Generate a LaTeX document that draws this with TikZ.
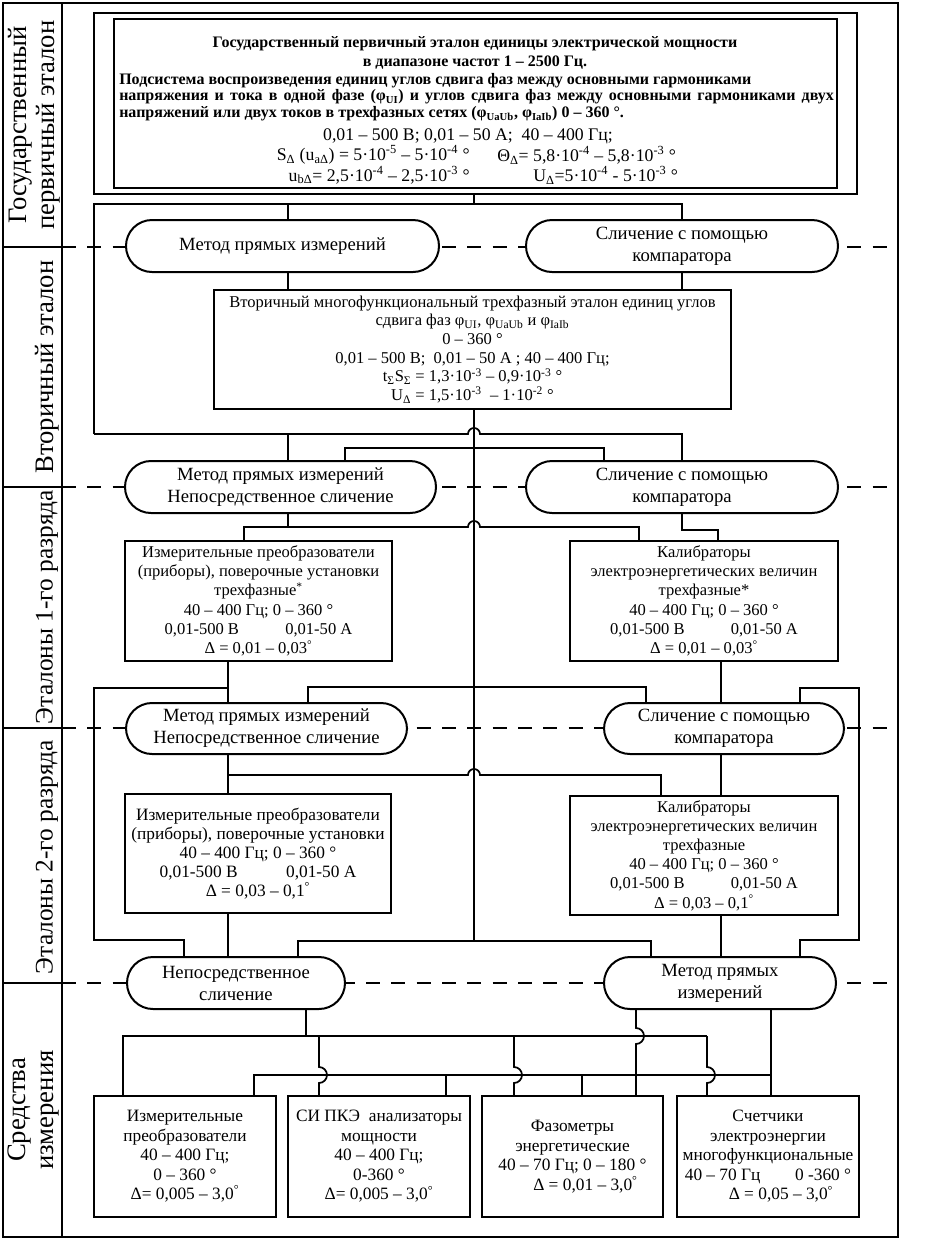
\documentclass[tikz,border=0pt]{standalone}
\usepackage{fontspec}
\setmainfont{Liberation Serif}
\usetikzlibrary{backgrounds}
\newcommand{\fsz}[2]{\fontsize{#1}{#2}\selectfont\lineskiplimit=-100pt}
% \BX{name}{x1}{y1}{x2}{y2}{style}{text}
\newcommand{\BX}[7]{\node[#6,minimum width={(#4-#2)*0.75pt},minimum height={(#5-#3)*0.75pt}] (#1) at ({(#2+#4)/2},{(#3+#5)/2}) {#7};}
\begin{document}
\begin{tikzpicture}[x=0.75pt,y=-0.75pt,
  box/.style={draw,line width=1.5pt,fill=white,inner sep=0pt,align=center},
  oval/.style={draw,line width=1.5pt,fill=white,rounded corners=19.5pt,inner sep=0pt,align=center,font=\fsz{14}{16.5}},
  txt/.style={inner sep=0pt},
  conn/.style={line width=1.3pt},
  sepl/.style={line width=1.3pt,dash pattern=on 10.5pt off 8.5pt},
  frm/.style={line width=1.6pt},
  lbl/.style={rotate=90,align=center,inner sep=0pt,font=\fsz{20}{21}}]
\useasboundingbox (0,0) rectangle (934,1240);
% frame
\draw[frm] (3,3) rectangle (898,1237);
\draw[frm] (62,3) -- (62,1237);
\foreach \yy in {247,487,728,983} \draw[frm] (3,\yy) -- (62,\yy);
% labels
\node[lbl] (L1) at (34,125) {Государственный\\первичный эталон};
\node[lbl] (L2) at (47,367) {Вторичный эталон};
\node[lbl,font=\fsz{19}{20}] (L3) at (47,607) {Эталоны 1-го разряда};
\node[lbl,font=\fsz{19}{20}] (L4) at (47,857) {Эталоны 2-го разряда};
\node[lbl] (L5) at (34,1110) {Средства\\измерения};
% top box
\BX{topo}{94}{13}{857}{194}{box}{}
\BX{topi}{114}{19}{837}{188}{box}{}
\node[txt,align=center,font=\bfseries\fsz{12}{14.2}] (t1) at (475,53) {Государственный первичный эталон единицы электрической мощности\\в диапазоне частот 1 – 2500 Гц.};
\node[txt,align=left,anchor=west,font=\bfseries\fsz{12}{12.6}] (t2) at (119,97) {Подсистема воспроизведения единиц углов сдвига фаз между основными гармониками\\\makebox[536pt][s]{напряжения и тока в одной фазе (φ\textsubscript{UI}) и углов сдвига фаз между основными гармониками двух}\\напряжений или двух токов в трехфазных сетях (φ\textsubscript{UaUb}, φ\textsubscript{IaIb}) 0 – 360 °.};
\node[txt,font=\fsz{13.3}{14}] (t3) at (468,136) {0,01 – 500 В; 0,01 – 50 А;\ \ 40 – 400 Гц;};
\node[txt,anchor=east,font=\fsz{13.3}{14}] (t4) at (470,155) {S\textsubscript{Δ} (u\textsubscript{aΔ}) = 5·10\textsuperscript{-5} – 5·10\textsuperscript{-4} °};
\node[txt,anchor=west,font=\fsz{13.3}{14}] (t5) at (497,155) {Θ\textsubscript{Δ}= 5,8·10\textsuperscript{-4} – 5,8·10\textsuperscript{-3} °};
\node[txt,anchor=east,font=\fsz{13.3}{14}] (t6) at (470,175) {u\textsubscript{bΔ}= 2,5·10\textsuperscript{-4} – 2,5·10\textsuperscript{-3} °};
\node[txt,anchor=west,font=\fsz{13.3}{14}] (t7) at (533,175) {U\textsubscript{Δ}=5·10\textsuperscript{-4} - 5·10\textsuperscript{-3} °};
% row 2
\BX{o2a}{126}{220}{439}{272}{oval}{Метод прямых измерений}
\BX{o2b}{526}{220}{838}{272}{oval}{Сличение с помощью\\компаратора}
\BX{sec}{214}{290}{731}{409}{box,font=\fsz{12.4}{14}}{Вторичный многофункциональный трехфазный эталон единиц углов\\сдвига фаз φ\textsubscript{UI}, φ\textsubscript{UaUb} и φ\textsubscript{IaIb}\\0 – 360 °\\0,01 – 500 В;\ \ 0,01 – 50 А ; 40 – 400 Гц;\\t\textsubscript{Σ}S\textsubscript{Σ} = 1,3·10\textsuperscript{-3} – 0,9·10\textsuperscript{-3} °\\U\textsubscript{Δ} = 1,5·10\textsuperscript{-3}\ \ – 1·10\textsuperscript{-2} °}
% row 3
\BX{o3a}{125}{461}{436}{513}{oval}{Метод прямых измерений\\Непосредственное сличение}
\BX{o3b}{526}{461}{838}{513}{oval}{Сличение с помощью\\компаратора}
\BX{b3a}{125}{541}{392}{661}{box,font=\fsz{12.4}{14.5}}{Измерительные преобразователи\\(приборы), поверочные установки\\трехфазные\textsuperscript{*}\\40 – 400 Гц; 0 – 360 °\\0,01-500 В\hspace{2.8em}0,01-50 А\\Δ = 0,01 – 0,03\textsuperscript{°}}
\BX{b3b}{570}{541}{838}{661}{box,font=\fsz{12.4}{14.5}}{Калибраторы\\электроэнергетических величин\\трехфазные*\\40 – 400 Гц; 0 – 360 °\\0,01-500 В\hspace{2.8em}0,01-50 А\\Δ = 0,01 – 0,03\textsuperscript{°}}
% row 4
\BX{o4a}{126}{703}{407}{754}{oval}{Метод прямых измерений\\Непосредственное сличение}
\BX{o4b}{604}{703}{844}{754}{oval}{Сличение с помощью\\компаратора}
\BX{b4a}{125}{794}{391}{913}{box,font=\fsz{13}{14.2}}{Измерительные преобразователи\\(приборы), поверочные установки\\40 – 400 Гц; 0 – 360 °\\0,01-500 В\hspace{2.8em}0,01-50 А\\Δ = 0,03 – 0,1\textsuperscript{°}}
\BX{b4b}{570}{796}{838}{915}{box,font=\fsz{12.4}{14.4}}{Калибраторы\\электроэнергетических величин\\трехфазные\\40 – 400 Гц; 0 – 360 °\\0,01-500 В\hspace{2.8em}0,01-50 А\\Δ = 0,03 – 0,1\textsuperscript{°}}
% row 5
\BX{o5a}{127}{957}{345}{1009}{oval}{Непосредственное\\сличение}
\BX{o5b}{604}{957}{836}{1009}{oval}{Метод прямых\\измерений}
\BX{b5a}{94}{1096}{276}{1217}{box,font=\fsz{13}{14.6}}{Измерительные\\преобразователи\\40 – 400 Гц;\\0 – 360 °\\Δ= 0,005 – 3,0\textsuperscript{°}}
\BX{b5b}{288}{1096}{470}{1217}{box,font=\fsz{13}{14.6}}{СИ ПКЭ\ \ анализаторы\\мощности\\40 – 400 Гц;\\0-360 °\\Δ= 0,005 – 3,0\textsuperscript{°}}
\BX{b5c}{482}{1096}{663}{1217}{box,font=\fsz{13}{14.6}}{Фазометры\\энергетические\\40 – 70 Гц; 0 – 180 °\\\hspace*{1.5em}Δ = 0,01 – 3,0\textsuperscript{°}}
\BX{b5d}{677}{1096}{859}{1217}{box,font=\fsz{13}{14.6}}{Счетчики\\электроэнергии\\многофункциональные\\40 – 70 Гц\hspace{2em}0 -360 °\\\hspace*{1.5em}Δ = 0,05 – 3,0\textsuperscript{°}}
\begin{scope}[on background layer]
\fill[white] (0,0) rectangle (934,1240);
% dashed level lines
\foreach \yy in {247,487,728,983} \draw[sepl] (62,\yy) -- (898,\yy);
% row 1 -> row 2
\draw[conn] (474,0 |- topo.south) -- (474,204);
\draw[conn] (94,434) -- (94,204) -- (682,204) -- (682,0 |- o2b.north);
\draw[conn] (288,204) -- (288,0 |- o2a.north);
\draw[conn] (288,0 |- o2a.south) -- (288,0 |- sec.north);
\draw[conn] (682,0 |- o2b.south) -- (682,0 |- sec.north);
\draw[conn] (474,0 |- sec.south) -- (474,941);
\draw[conn] (94,434) -- (468,434) arc (180:360:6) -- (682,434) -- (682,0 |- o3b.north);
\draw[conn] (288,434) -- (288,0 |- o3a.north);
\draw[conn] (345,0 |- o3a.north) -- (345,448) -- (604,448) -- (604,0 |- o3b.north);
% row 3
\draw[conn] (288,0 |- o3a.south) -- (288,527);
\draw[conn] (244,0 |- b3a.north) -- (244,527) -- (468,527) arc (180:360:6) -- (639,527) -- (639,0 |- b3b.north);
\draw[conn] (682,0 |- o3b.south) -- (682,530) -- (718,530) -- (718,0 |- b3b.north);
\draw[conn] (228,0 |- b3a.south) -- (228,0 |- o4a.north);
\draw[conn] (721,0 |- b3b.south) -- (721,0 |- o4b.north);
% row 3 -> row 5 loops
\draw[conn] (228,688) -- (94,688) -- (94,940) -- (184,940) -- (184,0 |- o5a.north);
\draw[conn] (308,0 |- o4a.north) -- (308,687) -- (646,687) -- (646,0 |- o4b.north);
\draw[conn] (800,0 |- o4b.north) -- (800,688) -- (859,688) -- (859,940) -- (800,940) -- (800,0 |- o5b.north);
% row 4
\draw[conn] (228,0 |- o4a.south) -- (228,0 |- b4a.north);
\draw[conn] (228,775) -- (468,775) arc (180:360:6) -- (661,775) -- (661,0 |- b4b.north);
\draw[conn] (721,0 |- o4b.south) -- (721,0 |- b4b.north);
\draw[conn] (228,0 |- b4a.south) -- (228,0 |- o5a.north);
\draw[conn] (721,0 |- b4b.south) -- (721,0 |- o5b.north);
\draw[conn] (298,0 |- o5a.north) -- (298,941) -- (651,941) -- (651,0 |- o5b.north);
% row 5 buses
\draw[conn] (306,0 |- o5a.south) -- (306,1036);
\draw[conn] (123,0 |- b5a.north) -- (123,1036) -- (707,1036);
\draw[conn] (319,1036) -- (319,1067) arc (-90:90:8) -- (319,0 |- b5b.north);
\draw[conn] (514,1036) -- (514,1067) arc (-90:90:8) -- (514,0 |- b5c.north);
\draw[conn] (707,1036) -- (707,1067) arc (-90:90:8) -- (707,0 |- b5d.north);
\draw[conn] (771,0 |- o5b.south) -- (771,0 |- b5d.north);
\draw[conn] (254,0 |- b5a.north) -- (254,1075) -- (771,1075);
\draw[conn] (446,1075) -- (446,0 |- b5b.north);
\draw[conn] (582,1075) -- (582,0 |- b5c.north);
\draw[conn] (636,0 |- o5b.south) -- (636,1028) arc (-90:90:8) -- (636,0 |- b5c.north);
\end{scope}
\end{tikzpicture}
\end{document}
